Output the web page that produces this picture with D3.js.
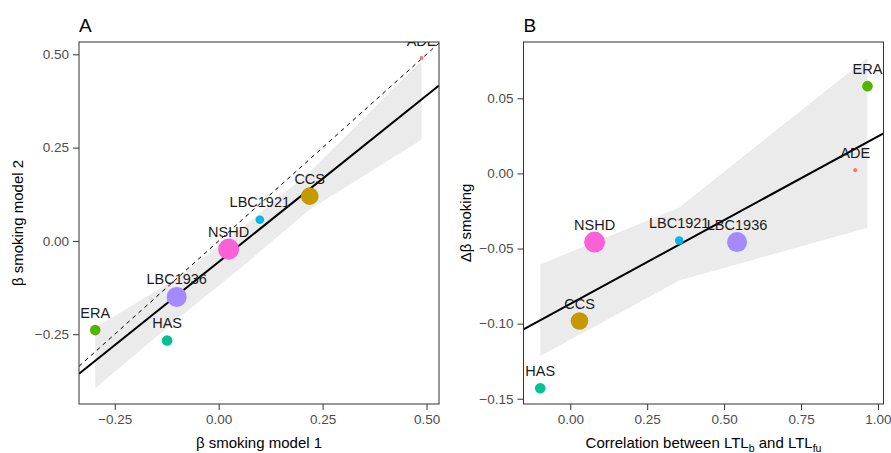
<!DOCTYPE html>
<html>
<head>
<meta charset="utf-8">
<script src="https://cdn.jsdelivr.net/npm/d3@7"></script>
<style>
  body { margin: 0; background: #fff; }
  svg { font-family: "Liberation Sans", Arial, sans-serif; }
</style>
</head>
<body>
<svg id="chart" width="891" height="453"></svg>
<script>
// cohorts, shared by both panels
const cohorts = ["ADE", "CCS", "ERA", "HAS", "LBC1921", "LBC1936", "NSHD"];
const weights = [4, 77, 28, 28, 18, 100, 110];
const colours = ["#F8766D", "#C49A00", "#53B400", "#00C094", "#00B6EB", "#A58AFF", "#FB61D7"];

// panel A: beta smoking, model 1 vs model 2
const betaModel1 = [0.488, 0.219, -0.297, -0.124, 0.099, -0.101, 0.024];
const betaModel2 = [0.490, 0.120, -0.239, -0.267, 0.057, -0.150, -0.022];
const fitA = { intercept: -0.0563, slope: 0.892 };
const bandAx = [-0.297, -0.10, 0.05, 0.22, 0.488];
const bandAhi = [-0.233, -0.10, 0.03, 0.185, 0.483];
const bandAlo = [-0.395, -0.21, -0.075, 0.085, 0.271];
const ticksAx = [-0.25, 0, 0.25, 0.5];
const ticksAy = [-0.25, 0, 0.25, 0.5];

// panel B: correlation LTL_b / LTL_fu vs delta beta
const corrLTL = [0.926, 0.030, 0.966, -0.0975, 0.354, 0.542, 0.079];
const deltaBeta = [0.0022, -0.0983, 0.0581, -0.143, -0.0446, -0.0457, -0.0457];
const fitB = { intercept: -0.0869, slope: 0.1116 };
const bandBx = [-0.0975, 0.354, 0.966];
const bandBhi = [-0.0606, -0.0226, 0.077];
const bandBlo = [-0.1216, -0.0712, -0.0362];
const ticksBx = [0, 0.25, 0.5, 0.75, 1];
const ticksBy = [-0.15, -0.10, -0.05, 0, 0.05];

const svg = d3.select("#chart");
const rScale = d3.scaleSqrt().domain([0, 110]).range([0, 10.5]);

function panel(opt) {
  const x = d3.scaleLinear().domain(opt.xDomain).range([opt.left, opt.right]);
  const y = d3.scaleLinear().domain(opt.yDomain).range([opt.bottom, opt.top]);
  const g = svg.append("g");

  const clipId = "clip" + opt.title;
  g.append("clipPath").attr("id", clipId)
    .append("rect")
    .attr("x", opt.left).attr("y", opt.top)
    .attr("width", opt.right - opt.left).attr("height", opt.bottom - opt.top);

  const plot = g.append("g").attr("clip-path", `url(#${clipId})`);

  // confidence band
  const band = opt.bandX.map((v, i) => [v, opt.bandLo[i], opt.bandHi[i]]);
  plot.append("path")
    .datum(band)
    .attr("d", d3.area().x(d => x(d[0])).y0(d => y(d[1])).y1(d => y(d[2])))
    .attr("fill", "#EBEBEB");

  // identity line
  if (opt.identity) {
    plot.append("line")
      .attr("x1", x(opt.xDomain[0])).attr("y1", y(opt.xDomain[0]))
      .attr("x2", x(opt.xDomain[1])).attr("y2", y(opt.xDomain[1]))
      .attr("stroke", "#000").attr("stroke-width", 1)
      .attr("stroke-dasharray", "4,4");
  }

  // fitted line
  const f = v => opt.fit.intercept + opt.fit.slope * v;
  plot.append("line")
    .attr("x1", x(opt.xDomain[0])).attr("y1", y(f(opt.xDomain[0])))
    .attr("x2", x(opt.xDomain[1])).attr("y2", y(f(opt.xDomain[1])))
    .attr("stroke", "#000").attr("stroke-width", 2);

  const pts = cohorts.map((c, i) => ({ name: c, x: opt.xs[i], y: opt.ys[i], w: weights[i], col: colours[i] }));

  plot.append("g").selectAll("circle")
    .data(pts)
    .enter()
    .append("circle")
    .attr("cx", d => x(d.x))
    .attr("cy", d => y(d.y))
    .attr("r", d => rScale(d.w))
    .attr("fill", d => d.col);

  plot.append("g").selectAll("text")
    .data(pts)
    .enter()
    .append("text")
    .attr("x", d => x(d.x))
    .attr("y", d => y(d.y) - 17.5)
    .attr("text-anchor", "middle")
    .attr("dominant-baseline", "central")
    .attr("font-size", 14.5)
    .attr("fill", "#1a1a1a")
    .text(d => d.name);

  // axes
  const xAxis = g.append("g")
    .attr("transform", `translate(0,${opt.bottom})`)
    .call(d3.axisBottom(x).tickValues(opt.xTicks).tickFormat(d3.format(".2f")).tickSize(6).tickPadding(4));
  const yAxis = g.append("g")
    .attr("transform", `translate(${opt.left},0)`)
    .call(d3.axisLeft(y).tickValues(opt.yTicks).tickFormat(d3.format(".2f")).tickSize(6).tickPadding(4));
  [xAxis, yAxis].forEach(a => {
    a.select(".domain").remove();
    a.selectAll(".tick line").attr("stroke", "#333");
    a.selectAll(".tick text").attr("fill", "#4D4D4D").attr("font-size", 13.5)
      .attr("font-family", "Liberation Sans, Arial, sans-serif");
  });

  // panel border
  g.append("rect")
    .attr("x", opt.left).attr("y", opt.top)
    .attr("width", opt.right - opt.left).attr("height", opt.bottom - opt.top)
    .attr("fill", "none").attr("stroke", "#333").attr("stroke-width", 1);

  // titles
  g.append("text")
    .attr("x", opt.left).attr("y", 32)
    .attr("font-size", 19)
    .text(opt.title);

  const xt = g.append("text")
    .attr("x", (opt.left + opt.right) / 2).attr("y", 448)
    .attr("text-anchor", "middle")
    .attr("font-size", 15);
  opt.xLabel(xt);

  g.append("text")
    .attr("transform", `translate(${opt.yLabelX},${(opt.top + opt.bottom) / 2}) rotate(-90)`)
    .attr("text-anchor", "middle")
    .attr("font-size", 15)
    .text(opt.yLabel);
}

panel({
  title: "A",
  left: 79, right: 439, top: 42, bottom: 404,
  xDomain: [-0.336, 0.53], yDomain: [-0.437, 0.533],
  xs: betaModel1, ys: betaModel2,
  fit: fitA, bandX: bandAx, bandHi: bandAhi, bandLo: bandAlo,
  xTicks: ticksAx, yTicks: ticksAy,
  identity: true,
  xLabel: t => t.text("β smoking model 1"),
  yLabel: "β smoking model 2",
  yLabelX: 23
});

panel({
  title: "B",
  left: 523.5, right: 883.5, top: 42, bottom: 404,
  xDomain: [-0.152, 1.018], yDomain: [-0.1535, 0.0875],
  xs: corrLTL, ys: deltaBeta,
  fit: fitB, bandX: bandBx, bandHi: bandBhi, bandLo: bandBlo,
  xTicks: ticksBx, yTicks: ticksBy,
  identity: false,
  xLabel: t => {
    t.append("tspan").text("Correlation between LTL");
    t.append("tspan").attr("font-size", 10.5).attr("dy", 4).text("b");
    t.append("tspan").attr("dy", -4).text(" and LTL");
    t.append("tspan").attr("font-size", 10.5).attr("dy", 4).text("fu");
  },
  yLabel: "Δβ smoking",
  yLabelX: 471
});
</script>
</body>
</html>
